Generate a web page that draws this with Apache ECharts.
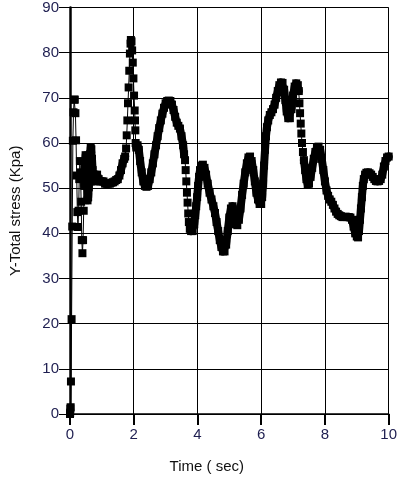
<!DOCTYPE html>
<html>
<head>
<meta charset="utf-8">
<script src="https://cdn.jsdelivr.net/npm/echarts@6/dist/echarts.min.js"></script>
<style>
  html, body { margin: 0; padding: 0; background: #fff; }
  #chart { width: 400px; height: 480px; }
</style>
</head>
<body>
<div id="chart"></div>
<script>
// time (sec) and Y-total stress (Kpa)
const timeSec = [
  0, 0.005, 0.01, 0.02, 0.03, 0.05, 0.07, 0.09, 0.11, 0.13,
  0.15, 0.17, 0.19, 0.21, 0.23, 0.25, 0.27, 0.29, 0.31, 0.33,
  0.35, 0.37, 0.39, 0.41, 0.43, 0.45, 0.47, 0.49, 0.51, 0.53,
  0.55, 0.57, 0.59, 0.61, 0.63, 0.65, 0.67, 0.69, 0.71, 0.73,
  0.76, 0.80, 0.85, 0.90, 0.95, 1.00, 1.05, 1.10, 1.15, 1.20,
  1.25, 1.30, 1.35, 1.40, 1.45, 1.50, 1.55, 1.60, 1.65, 1.70,
  1.73, 1.76, 1.78, 1.80, 1.82, 1.84, 1.86, 1.88, 1.90, 1.91,
  1.93, 1.95, 1.97, 1.99, 2.01, 2.03, 2.04, 2.05, 2.06, 2.08,
  2.12, 2.16, 2.20, 2.25, 2.30, 2.35, 2.40, 2.45, 2.50, 2.55,
  2.60, 2.65, 2.70, 2.75, 2.80, 2.85, 2.90, 2.95, 3.00, 3.05,
  3.10, 3.15, 3.20, 3.25, 3.30, 3.35, 3.40, 3.45, 3.50, 3.55,
  3.58, 3.61, 3.63, 3.65, 3.67, 3.69, 3.71, 3.73, 3.76, 3.80,
  3.85, 3.90, 3.93, 3.96, 3.99, 4.02, 4.05, 4.08, 4.12, 4.17,
  4.22, 4.27, 4.32, 4.38, 4.44, 4.50, 4.55, 4.60, 4.65, 4.70,
  4.75, 4.80, 4.85, 4.90, 4.95, 5.00, 5.05, 5.10, 5.15, 5.20,
  5.25, 5.30, 5.35, 5.40, 5.45, 5.50, 5.55, 5.60, 5.65, 5.70,
  5.75, 5.80, 5.85, 5.90, 5.95, 6.00, 6.03, 6.06, 6.09, 6.12,
  6.15, 6.18, 6.22, 6.27, 6.32, 6.37, 6.42, 6.47, 6.52, 6.57,
  6.62, 6.67, 6.72, 6.76, 6.80, 6.85, 6.90, 6.95, 7.00, 7.05,
  7.10, 7.15, 7.18, 7.20, 7.22, 7.24, 7.26, 7.28, 7.31, 7.34,
  7.38, 7.42, 7.46, 7.50, 7.55, 7.60, 7.65, 7.70, 7.75, 7.80,
  7.85, 7.90, 7.95, 8.00, 8.05, 8.10, 8.15, 8.20, 8.25, 8.30,
  8.35, 8.40, 8.45, 8.50, 8.55, 8.60, 8.65, 8.70, 8.75, 8.80,
  8.85, 8.90, 8.95, 9.00, 9.04, 9.07, 9.10, 9.13, 9.16, 9.19,
  9.22, 9.26, 9.30, 9.35, 9.40, 9.45, 9.50, 9.55, 9.60, 9.65,
  9.70, 9.75, 9.80, 9.85, 9.90, 9.95, 10.00
];
const stressKpa = [
  0, 0.3, 1.2, 1.5, 7.2, 21, 41.5, 60.5, 66.8, 69.6,
  69.6, 66.6, 60.6, 52.8, 44.7, 41.4, 45, 52, 56, 53.5,
  47, 38.5, 35.6, 38.5, 45, 50.5, 55, 57.3, 56, 51.5,
  47.3, 48, 50.2, 54, 57.5, 59, 58.6, 56.5, 54, 52.5,
  51.5, 52.5, 53, 52, 51.5, 51.5, 51.5, 51, 51, 51,
  51, 51.2, 51.3, 51.5, 51.8, 52, 52.8, 54, 55.5, 56.5,
  57, 58.8, 61.7, 65, 68.8, 72.3, 76, 79.8, 82, 82.8,
  82.5, 80.5, 77.8, 74.3, 70.5, 67.2, 65, 62.8, 60, 59,
  59.5, 58.5, 56, 53.5, 51.5, 50.5, 50.3, 50.5, 52, 53.5,
  55.5, 57.5, 59.5, 61.5, 63.3, 65, 66.5, 67.8, 68.8, 69.3,
  69.4, 69.3, 68.5, 67.3, 65.8, 64.5, 63.8, 63.2, 61.5, 59.5,
  57.5, 56.2, 54, 51.5, 49, 46.8, 44.4, 42.5, 41, 40.5,
  40.5, 42, 44, 46, 48, 50.5, 52.5, 54, 55, 55.2,
  54.5, 53, 51, 49, 47.5, 46, 44.5, 42.5, 40.5, 38.5,
  37, 36, 36, 37.5, 40.5, 43.5, 45.5, 46, 44, 42,
  41.8, 43, 45.5, 48.5, 51, 53.5, 55.5, 56.8, 57, 56,
  54, 51.5, 49, 47.5, 46.5, 46.5, 48, 51, 55, 58.5,
  61.5, 63.5, 65, 66.2, 66.8, 67.5, 68.5, 70, 71.5, 72.8,
  73.4, 73.3, 71.8, 69.5, 67, 65.5, 65.5, 67.5, 70.5, 72.5,
  73.2, 72.8, 71.5, 68.8, 66.6, 64.3, 62.1, 60, 58, 56.2,
  54, 52, 50.8, 51, 52.5, 54.5, 56.5, 58, 59, 59.2,
  58.5, 56.5, 54, 51.5, 49.5, 48.3, 47.5, 47, 46.3, 45.5,
  44.8, 44.3, 44, 43.8, 43.6, 43.6, 43.7, 43.6, 43.6, 43.5,
  43, 41.5, 40, 39.3, 39.1, 40.5, 43, 45.5, 48, 50.5,
  52, 53, 53.4, 53.5, 53.3, 53, 52.5, 52, 51.6, 51.5,
  51.6, 52, 53, 54.8, 56, 56.8, 57
];
// stretches (sec) where samples are far apart and show as separate squares
const sparseSpans = [
  [0, 0.44],
  [1.74, 2.07],
  [3.59, 3.79],
  [7.19, 7.33]
];

const xRange = [0, 10];
const yRange = [0, 90];

const chart = echarts.init(document.getElementById('chart'), null, { renderer: 'canvas' });

function inSparse(t) {
  for (let k = 0; k < sparseSpans.length; k++) {
    if (t > sparseSpans[k][0] && t < sparseSpans[k][1]) return true;
  }
  return false;
}

let points = [];
let dense = [];
for (let i = 0; i < timeSec.length; i++) {
  points.push([timeSec[i], stressKpa[i]]);
  dense.push([timeSec[i], inSparse(timeSec[i]) ? null : stressKpa[i]]);
}

const labelColor = '#1e1e50';
const font = 'Arial, "Liberation Sans", sans-serif';

let option = {
  animation: false,
  backgroundColor: '#fff',
  grid: {
    left: 66,
    right: 11,
    top: 7,
    bottom: 66
  },
  xAxis: {
    type: 'value',
    min: xRange[0],
    max: xRange[1],
    interval: 2,
    name: 'Time ( sec)',
    nameLocation: 'middle',
    nameGap: 45,
    nameTextStyle: {
      color: '#111',
      fontSize: 15,
      fontFamily: font,
      padding: [0, 45, 0, 0]
    },
    axisLine: { lineStyle: { color: '#000', width: 1.5 } },
    axisTick: { show: true, length: 11, lineStyle: { color: '#000', width: 2 } },
    axisLabel: { color: labelColor, fontSize: 15, fontFamily: font, margin: 13 },
    splitLine: { show: true, lineStyle: { color: '#000', width: 1 } }
  },
  yAxis: {
    type: 'value',
    min: yRange[0],
    max: yRange[1],
    interval: 10,
    name: 'Y-Total stress (Kpa)',
    nameLocation: 'middle',
    nameGap: 47,
    nameTextStyle: {
      color: '#111',
      fontSize: 15,
      fontFamily: font
    },
    axisLine: { show: true, lineStyle: { color: '#000', width: 2.5 } },
    axisTick: { show: true, length: 11, lineStyle: { color: '#000', width: 1 } },
    axisLabel: { color: labelColor, fontSize: 15, fontFamily: font, margin: 11 },
    splitLine: { show: true, lineStyle: { color: '#000', width: 1 } }
  },
  series: [
    {
      // densely sampled parts merge into a heavy band
      type: 'line',
      data: dense,
      showSymbol: false,
      connectNulls: false,
      clip: false,
      silent: true,
      lineStyle: { color: '#000', width: 8, join: 'round', cap: 'round' }
    },
    {
      type: 'line',
      data: points,
      symbol: 'rect',
      symbolSize: 8,
      showAllSymbol: true,
      clip: false,
      sampling: 'none',
      lineStyle: { color: '#000', width: 1 },
      itemStyle: { color: '#000' }
    }
  ]
};
chart.setOption(option);
</script>
</body>
</html>
